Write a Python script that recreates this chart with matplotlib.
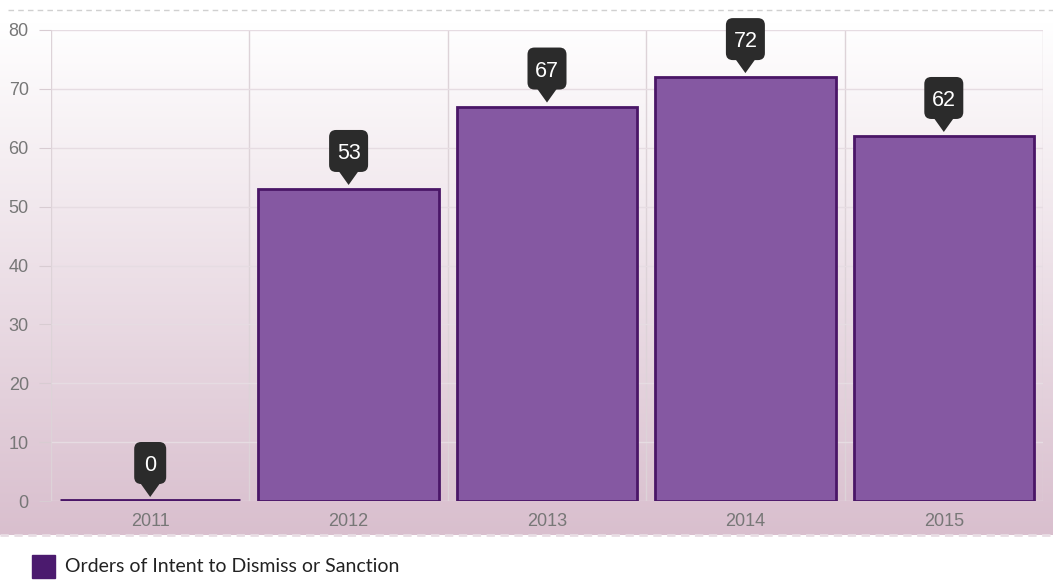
import numpy as np
import matplotlib.pyplot as plt
from matplotlib.transforms import ScaledTranslation
from matplotlib.patches import Rectangle, FancyBboxPatch, Polygon

# data
years = ["2011", "2012", "2013", "2014", "2015"]
orders = [0, 53, 67, 72, 62]
series_name = "Orders of Intent to Dismiss or Sanction"

W, H = 1053, 580
fig = plt.figure(figsize=(W / 100, H / 100), dpi=100)

# background panel with vertical gradient
bg = fig.add_axes([0, 0, 1, 1], zorder=0)
bg.set_xlim(0, W)
bg.set_ylim(H, 0)
bg.axis("off")
top_c = np.array([255, 255, 255]) / 255
bot_c = np.array([217, 191, 206]) / 255
t = np.linspace(0, 1, 256)[:, None, None]
grad = top_c * (1 - t) + bot_c * t
bg.imshow(grad, extent=[0, W, 535, 22], aspect="auto", zorder=0)
bg.plot([8, W], [10, 10], color="#d0d0d0", lw=1, ls=(0, (4, 3)))
bg.plot([0, W], [535, 535], color="#e8dde4", lw=2, ls=(0, (3, 2)))

# legend
bg.add_patch(Rectangle((32, 555), 23, 23, color="#4b1a6e"))
bg.text(65, 567, series_name, fontsize=14, family="Lato", color="#222222",
        va="center", ha="left")

ax = fig.add_axes([51 / W, 1 - 501 / H, (1043 - 51) / W, (501 - 30) / H], zorder=1)
ax.patch.set_alpha(0)
x = np.arange(len(years))
bars = ax.bar(x, orders, width=0.91, color="#8558a2", edgecolor="#4a1667",
              linewidth=2, zorder=3)
for b, v in zip(bars, orders):
    if v == 0:
        b.set_linewidth(3.5)
ax.set_xlim(-0.5, len(years) - 0.5)
ax.set_ylim(0, 80)
ax.set_yticks(range(0, 81, 10))
ax.set_xticks(x)
ax.set_xticklabels(years)
for xb in np.arange(-0.5, len(years), 1):
    ax.axvline(xb, color="#ddd3d8", lw=1, zorder=1)
ax.grid(axis="y", color="#e6dce2", lw=1, zorder=1)
for s in ax.spines.values():
    s.set_visible(False)
ax.tick_params(axis="y", length=9, color="#d8ccd2", labelcolor="#777777",
               labelsize=13, pad=7)
ax.tick_params(axis="x", length=0, labelcolor="#777777", labelsize=13, pad=9)
for lab in ax.get_xticklabels() + ax.get_yticklabels():
    lab.set_family("Liberation Sans")

# value callouts (sizes in inches around the bar top, 1 px = 0.01 in)
for xi, v in zip(x, orders):
    s = str(v)
    bw = 0.25 + 0.07 * len(s)
    tr = fig.dpi_scale_trans + ScaledTranslation(xi, v, ax.transData)
    box = FancyBboxPatch((-bw / 2, 0.17), bw, 0.42,
                         boxstyle="round,pad=0,rounding_size=0.07",
                         fc="#2b2b2b", ec="none", transform=tr, zorder=5,
                         clip_on=False)
    ax.add_patch(box)
    tri = Polygon([(-0.1, 0.18), (0.1, 0.18), (0, 0.04)], closed=True,
                  fc="#2b2b2b", ec="none", transform=tr, zorder=5, clip_on=False)
    ax.add_patch(tri)
    ax.annotate(s, (xi, v), xytext=(0, 21.6), textcoords="offset points",
                ha="center", va="baseline", fontsize=15.5, color="white",
                family="Liberation Sans", zorder=6)

fig.savefig("out.png", dpi=100)
